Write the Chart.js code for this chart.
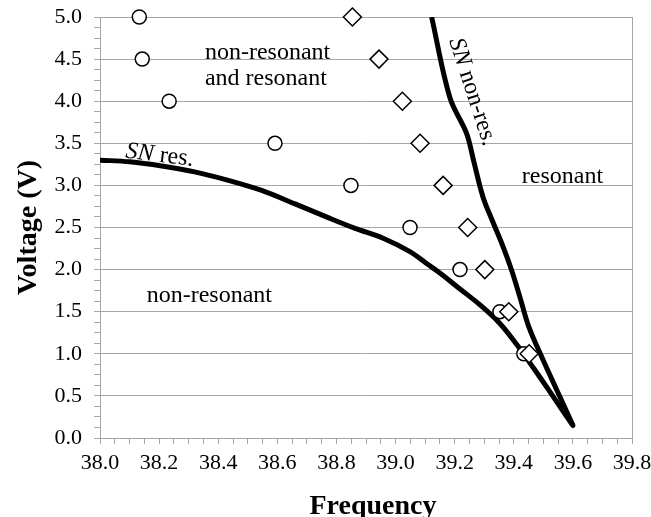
<!DOCTYPE html>
<html>
<head>
<meta charset="utf-8">
<script src="https://cdn.jsdelivr.net/npm/chart.js@4/dist/chart.umd.min.js"></script>
<style>
  html, body { margin: 0; padding: 0; background: #ffffff; }
  #wrap { width: 651px; height: 517px; position: relative; }
</style>
</head>
<body>
<div id="wrap"><canvas id="chart"></canvas></div>
<script>
// Measured drive voltages (V) shared by both marker series
const voltageLevels = [5.0, 4.5, 4.0, 3.5, 3.0, 2.5, 2.0, 1.5, 1.0];
// Circle markers: frequency at each voltage
const circleFreq = [38.133, 38.143, 38.234, 38.592, 38.849, 39.049, 39.218, 39.353, 39.434];
// Diamond markers: frequency at each voltage
const diamondFreq = [38.854, 38.944, 39.023, 39.083, 39.161, 39.244, 39.302, 39.383, 39.452];

// Saddle-node boundary of the resonant branch
const snResFreq = [38.0, 38.1, 38.209, 38.32, 38.434, 38.547, 38.66, 38.77, 38.863, 38.96, 39.05, 39.106, 39.15, 39.218, 39.286, 39.353, 39.41, 39.465, 39.522, 39.578, 39.6];
const snResVolt = [3.30, 3.28, 3.23, 3.16, 3.06, 2.94, 2.78, 2.62, 2.49, 2.37, 2.21, 2.07, 1.96, 1.77, 1.58, 1.36, 1.11, 0.84, 0.55, 0.26, 0.15];

// Saddle-node boundary of the non-resonant branch
const snNonResFreq = [39.122, 39.184, 39.240, 39.265, 39.296, 39.330, 39.364, 39.393, 39.421, 39.450, 39.500, 39.556, 39.600];
const snNonResVolt = [5.00, 4.04, 3.62, 3.28, 2.86, 2.56, 2.27, 1.99, 1.67, 1.33, 0.92, 0.49, 0.15];

// Axis tick labels
const xTickLabels = ['38.0', '38.2', '38.4', '38.6', '38.8', '39.0', '39.2', '39.4', '39.6', '39.8'];
const yTickLabels = ['0.0', '0.5', '1.0', '1.5', '2.0', '2.5', '3.0', '3.5', '4.0', '4.5', '5.0'];

const pairs = (xs, ys) => xs.map((x, i) => ({ x: x, y: ys[i] }));
const SERIF = '"Liberation Serif", "Times New Roman", serif';
const GRID = '#a6a6a6';

function labelFor(list, value) {
  const hit = list.find(t => Math.abs(parseFloat(t) - value) < 1e-6);
  return hit === undefined ? '' : hit;
}
function stepTicks(min, max, step) {
  const out = [];
  const n = Math.round((max - min) / step);
  for (let i = 0; i <= n; i++) out.push({ value: +(min + i * step).toFixed(4) });
  return out;
}
function noEdgePadding(s) {
  s.paddingTop = 0; s.paddingBottom = 0; s.paddingLeft = 0; s.paddingRight = 0;
}

// Region names and curve captions, placed in data coordinates
const annotations = [
  { parts: [['non-resonant', '']], fx: 38.355, fv: 4.50, rot: 0 },
  { parts: [['and resonant', '']], fx: 38.355, fv: 4.19, rot: 0 },
  { parts: [['resonant', '']], fx: 39.427, fv: 3.03, rot: 0 },
  { parts: [['non-resonant', '']], fx: 38.158, fv: 1.61, rot: 0 },
  { parts: [['SN', 'italic '], [' res.', '']], fx: 38.085, fv: 3.33, rot: 7 },
  { parts: [['SN', 'italic '], [' non-res.', '']], fx: 39.181, fv: 4.72, rot: 72 }
];

const overlayPlugin = {
  id: 'overlay',
  afterDraw(chart) {
    const { ctx, chartArea, scales } = chart;
    ctx.save();
    // right edge of the plot area
    ctx.strokeStyle = GRID;
    ctx.lineWidth = 1;
    ctx.beginPath();
    ctx.moveTo(Math.round(chartArea.right) + 0.5, chartArea.top);
    ctx.lineTo(Math.round(chartArea.right) + 0.5, chartArea.bottom);
    ctx.stroke();

    ctx.fillStyle = '#000';
    ctx.textBaseline = 'alphabetic';
    ctx.textAlign = 'left';
    annotations.forEach(a => {
      const px = scales.x.getPixelForValue(a.fx);
      const py = scales.y.getPixelForValue(a.fv);
      ctx.save();
      ctx.translate(px, py);
      ctx.rotate(a.rot * Math.PI / 180);
      let cx = 0;
      a.parts.forEach(([txt, style]) => {
        ctx.font = style + '24px ' + SERIF;
        ctx.fillText(txt, cx, 0);
        cx += ctx.measureText(txt).width;
      });
      ctx.restore();
    });

    // axis titles
    ctx.font = 'bold 28px ' + SERIF;
    ctx.textAlign = 'center';
    ctx.fillText('Frequency', (chartArea.left + chartArea.right) / 2 + 7, 514);
    ctx.save();
    ctx.translate(36, (chartArea.top + chartArea.bottom) / 2);
    ctx.rotate(-Math.PI / 2);
    ctx.fillText('Voltage (V)', 0, 0);
    ctx.restore();
    ctx.restore();
  }
};

new Chart(document.getElementById('chart'), {
  type: 'scatter',
  data: {
    datasets: [
      {
        label: 'diamonds',
        data: pairs(diamondFreq, voltageLevels),
        pointStyle: 'rectRot',
        pointRadius: 9,
        pointBackgroundColor: '#ffffff',
        pointBorderColor: '#000000',
        pointBorderWidth: 1.5,
        showLine: false,
        clip: false
      },
      {
        label: 'circles',
        data: pairs(circleFreq, voltageLevels),
        pointStyle: 'circle',
        pointRadius: 7,
        pointBackgroundColor: '#ffffff',
        pointBorderColor: '#000000',
        pointBorderWidth: 1.5,
        showLine: false,
        clip: false
      },
      {
        label: 'SN res.',
        data: pairs(snResFreq, snResVolt),
        showLine: true,
        borderColor: '#000000',
        borderWidth: 5,
        pointRadius: 0,
        tension: 0.35,
        borderCapStyle: 'round'
      },
      {
        label: 'SN non-res.',
        data: pairs(snNonResFreq, snNonResVolt),
        showLine: true,
        borderColor: '#000000',
        borderWidth: 5,
        pointRadius: 0,
        tension: 0.35,
        borderCapStyle: 'butt'
      }
    ]
  },
  options: {
    responsive: true,
    maintainAspectRatio: false,
    animation: false,
    events: [],
    layout: { padding: { top: 17, right: 19, bottom: 0, left: 0 } },
    plugins: { legend: { display: false }, tooltip: { enabled: false } },
    scales: {
      x: {
        type: 'linear',
        min: 38.0,
        max: 39.8,
        afterBuildTicks: s => { s.ticks = stepTicks(38.0, 39.8, 0.05); },
        afterFit: s => { s.height = 79; noEdgePadding(s); },
        ticks: {
          autoSkip: false,
          maxRotation: 0,
          padding: 6,
          color: '#000',
          font: { family: SERIF, size: 22 },
          callback: v => labelFor(xTickLabels, v)
        },
        grid: { display: true, drawOnChartArea: false, drawTicks: true, tickLength: 6, color: GRID },
        border: { display: true, color: GRID, width: 1 }
      },
      y: {
        type: 'linear',
        min: 0,
        max: 5,
        afterBuildTicks: s => { s.ticks = stepTicks(0, 5, 0.125); },
        afterFit: s => { s.width = 100; noEdgePadding(s); },
        ticks: {
          autoSkip: false,
          padding: 12,
          color: '#000',
          font: { family: SERIF, size: 22 },
          callback: v => labelFor(yTickLabels, v)
        },
        grid: {
          display: true,
          drawTicks: true,
          tickLength: 6,
          color: c => (labelFor(yTickLabels, c.tick.value) !== '' ? GRID : 'rgba(0,0,0,0)'),
          tickColor: GRID
        },
        border: { display: true, color: GRID, width: 1 }
      }
    }
  },
  plugins: [overlayPlugin]
});
</script>
</body>
</html>
